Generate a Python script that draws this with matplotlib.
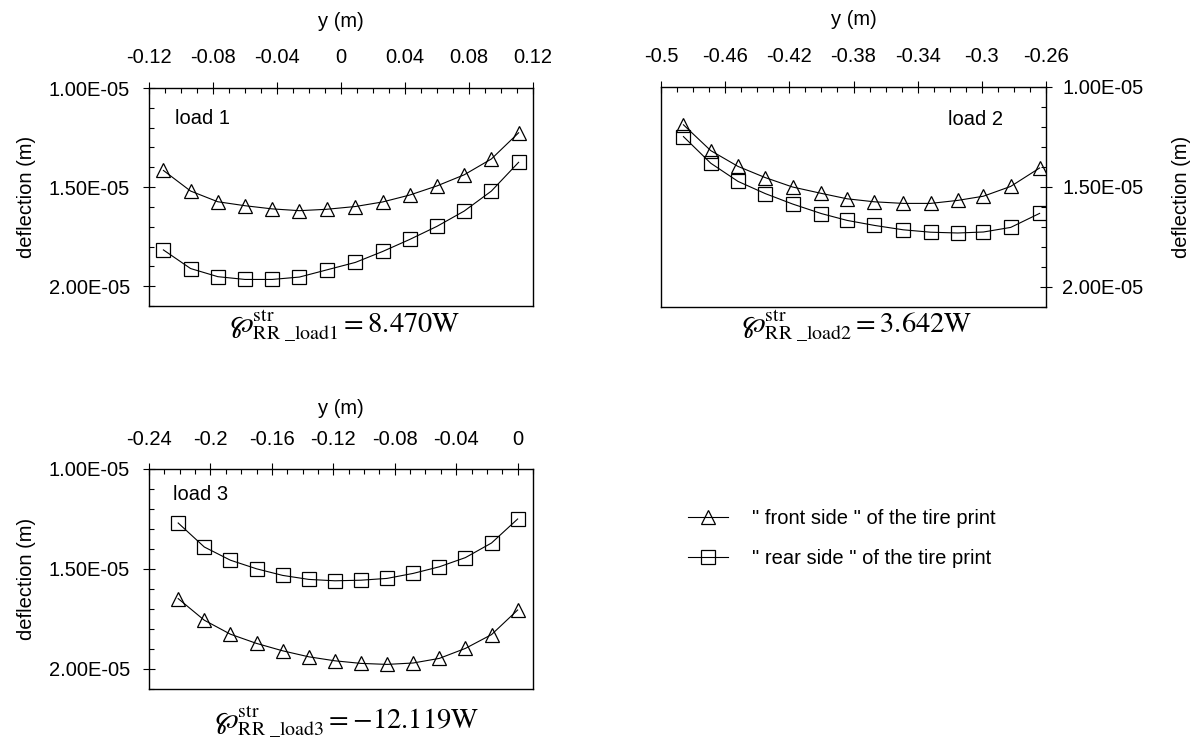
import matplotlib
matplotlib.use("Agg")
import matplotlib.pyplot as plt
from matplotlib.ticker import MultipleLocator, FuncFormatter
from matplotlib.lines import Line2D

plt.rcParams['font.family'] = ['Liberation Sans', 'DejaVu Sans']
plt.rcParams['mathtext.fontset'] = 'stix'

# y position along the tire print (m)
x_load1 = [-0.111, -0.094, -0.077, -0.060, -0.043, -0.026, -0.009,
           0.009, 0.026, 0.043, 0.060, 0.077, 0.094, 0.111]
x_load2 = [-0.486, -0.469, -0.452, -0.435, -0.418, -0.400, -0.384,
           -0.367, -0.349, -0.332, -0.315, -0.299, -0.282, -0.264]
x_load3 = [-0.221, -0.204, -0.187, -0.170, -0.153, -0.136, -0.119,
           -0.102, -0.085, -0.068, -0.051, -0.034, -0.017, 0.000]

# deflection, in units of 1e-5 m
front_load1 = [1.416, 1.520, 1.574, 1.594, 1.610, 1.619, 1.612,
               1.598, 1.575, 1.540, 1.494, 1.438, 1.358, 1.226]
rear_load1 = [1.817, 1.911, 1.952, 1.966, 1.966, 1.954, 1.918,
              1.880, 1.825, 1.764, 1.698, 1.621, 1.520, 1.375]

front_load2 = [1.189, 1.318, 1.397, 1.453, 1.500, 1.532, 1.559,
               1.574, 1.582, 1.582, 1.567, 1.546, 1.497, 1.405]
rear_load2 = [1.248, 1.381, 1.472, 1.533, 1.585, 1.633, 1.667,
              1.692, 1.714, 1.726, 1.730, 1.725, 1.702, 1.632]

front_load3 = [1.648, 1.756, 1.826, 1.872, 1.909, 1.939, 1.959,
               1.972, 1.977, 1.970, 1.947, 1.897, 1.828, 1.705]
rear_load3 = [1.270, 1.390, 1.456, 1.499, 1.532, 1.552, 1.559,
              1.556, 1.547, 1.522, 1.489, 1.443, 1.370, 1.250]

power_labels = [r'$\wp^{\mathrm{str}}_{\mathrm{RR\ \_load1}} = 8.470\mathrm{W}$',
                r'$\wp^{\mathrm{str}}_{\mathrm{RR\ \_load2}} = 3.642\mathrm{W}$',
                r'$\wp^{\mathrm{str}}_{\mathrm{RR\ \_load3}} = -12.119\mathrm{W}$']
load_names = ['load 1', 'load 2', 'load 3']
legend_labels = ['" front side " of the tire print', '" rear side " of the tire print']

fig = plt.figure(figsize=(12, 7.43), dpi=100)
fig.patch.set_facecolor('white')

W, H = 1200.0, 743.0


def make_axes(l, r, t, b):
    return fig.add_axes([l / W, 1 - b / H, (r - l) / W, (b - t) / H])


ax1 = make_axes(149, 533, 88, 306)
ax2 = make_axes(661, 1046, 87, 307)
ax3 = make_axes(149, 533, 469, 689)

fs = 14.5
style = dict(color='black', lw=0.8, mfc='none', mec='black', mew=0.9, ms=9.5)


def setup(ax, x, front, rear, xlim, x_offset=0.0, right=False, xpad=11):
    ax.plot(x, [v * 1e-5 for v in front], marker='^', **style)
    ax.plot(x, [v * 1e-5 for v in rear], marker='s', **style)
    ax.set_xlim(*xlim)
    ax.set_ylim(2.1e-5, 1.0e-5)
    ax.xaxis.set_major_locator(MultipleLocator(0.04, offset=x_offset))
    ax.xaxis.set_minor_locator(MultipleLocator(0.01))
    ax.yaxis.set_major_locator(MultipleLocator(0.5e-5))
    ax.yaxis.set_minor_locator(MultipleLocator(0.1e-5))
    ax.xaxis.set_major_formatter(FuncFormatter(lambda v, p: '%g' % (round(v, 4) + 0.0)))
    ax.yaxis.set_major_formatter(FuncFormatter(lambda v, p: '%.2E' % v))
    ax.xaxis.tick_top()
    ax.xaxis.set_label_position('top')
    if right:
        ax.yaxis.tick_right()
        ax.yaxis.set_label_position('right')
    ax.tick_params(which='major', direction='inout', length=8, width=0.8,
                   labelsize=fs, colors='black')
    ax.tick_params(which='minor', direction='in', length=3.6, width=0.8)
    ax.tick_params(axis='x', which='major', pad=xpad)
    ax.tick_params(axis='y', which='major', pad=7.6 if right else 9.7)
    ax.set_xlabel('y (m)', fontsize=fs)
    ax.set_ylabel('deflection (m)', fontsize=fs)
    for s in ax.spines.values():
        s.set_linewidth(1.0)


setup(ax1, x_load1, front_load1, rear_load1, (-0.12, 0.12))
setup(ax2, x_load2, front_load2, rear_load2, (-0.5, -0.26), x_offset=0.02, right=True)
setup(ax3, x_load3, front_load3, rear_load3, (-0.24, 0.01), xpad=10.3)

ax1.xaxis.set_label_coords(0.5, 1.28)
ax1.yaxis.set_label_coords(-0.294, 0.5)
ax2.xaxis.set_label_coords(0.5, 1.28)
ax2.yaxis.set_label_coords(1.327, 0.5)
ax3.xaxis.set_label_coords(0.5, 1.25)
ax3.yaxis.set_label_coords(-0.294, 0.5)

ax1.text(0.068, 0.862, load_names[0], transform=ax1.transAxes, fontsize=fs, va='center')
ax2.text(0.745, 0.85, load_names[1], transform=ax2.transAxes, fontsize=fs, va='center')
ax3.text(0.0625, 0.882, load_names[2], transform=ax3.transAxes, fontsize=fs, va='center')

fig.text(345 / W, 1 - 326 / H, power_labels[0], fontsize=20.5, ha='center', va='center')
fig.text(857 / W, 1 - 326 / H, power_labels[1], fontsize=20.5, ha='center', va='center')
fig.text(347 / W, 1 - 722 / H, power_labels[2], fontsize=20.5, ha='center', va='center')

handles = [Line2D([], [], marker='^', **style), Line2D([], [], marker='s', **style)]
fig.legend(handles, legend_labels, loc='upper left', bbox_to_anchor=(688 / W, 1 - 509 / H),
           frameon=False, fontsize=fs, handlelength=2.0, handletextpad=1.2,
           labelspacing=1.05, borderpad=0, borderaxespad=0)

fig.savefig('out.png', dpi=100)
